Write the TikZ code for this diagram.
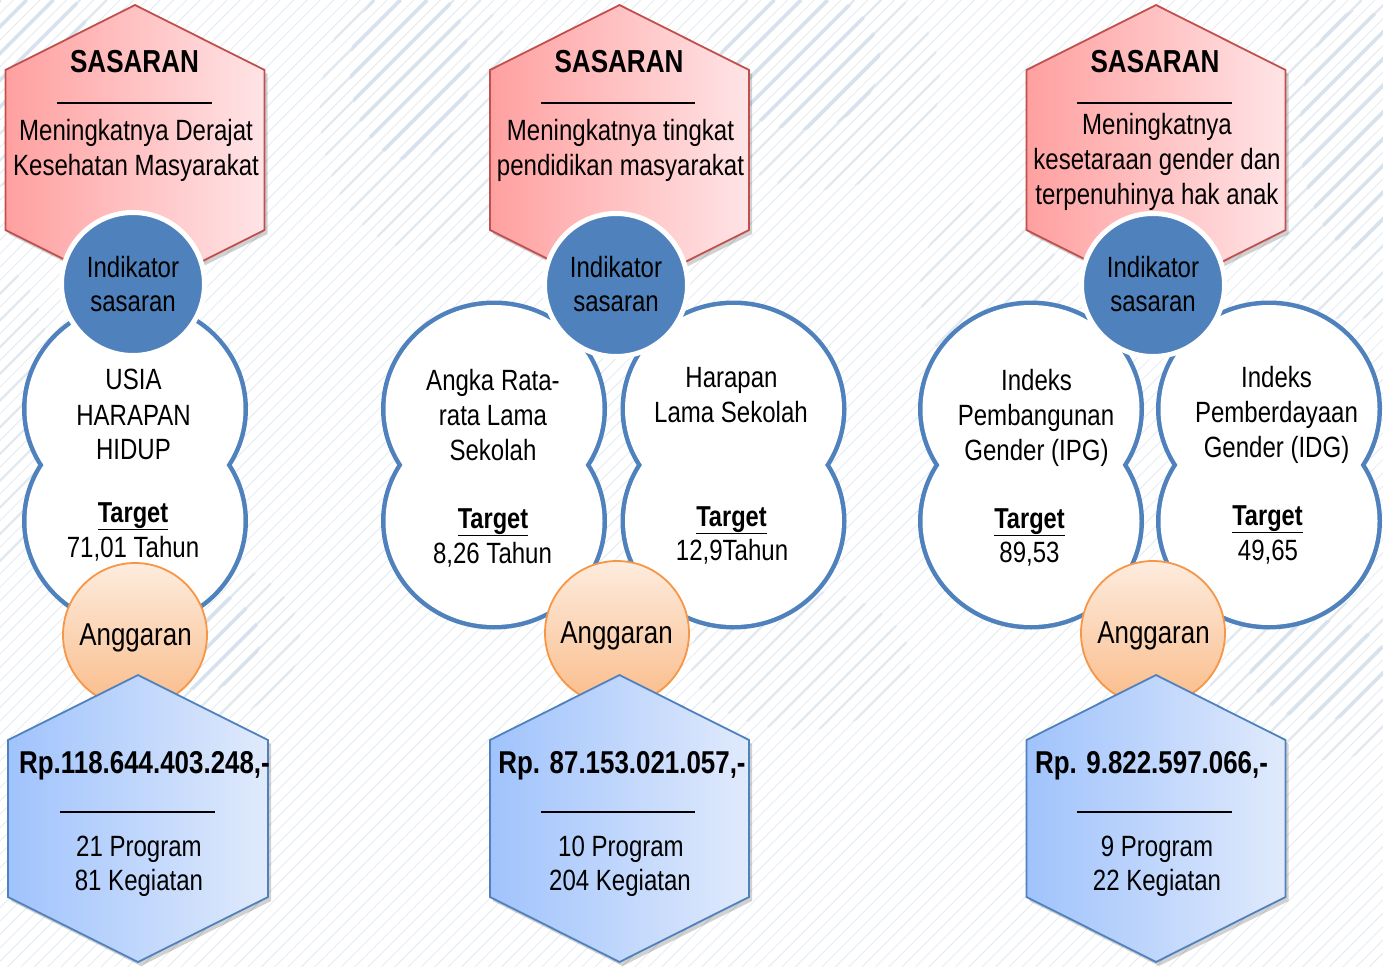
\documentclass[tikz,border=0pt]{standalone}
\usepackage{fontspec}
\setmainfont{Liberation Sans}[FakeStretch=0.82]
\definecolor{bgline}{RGB}{216,226,236}
\definecolor{bgmid}{RGB}{224,232,240}
\definecolor{bglight}{RGB}{227,234,241}
\definecolor{hexred}{RGB}{192,80,77}
\definecolor{redL}{RGB}{255,160,160}
\definecolor{redR}{RGB}{255,228,230}
\definecolor{bluebd}{RGB}{79,129,189}
\definecolor{blueL}{RGB}{160,195,252}
\definecolor{blueR}{RGB}{224,234,252}
\definecolor{orbd}{RGB}{247,150,70}
\definecolor{orTop}{RGB}{253,236,222}
\definecolor{orBot}{RGB}{250,188,138}
\newcommand\tophex[1]{%
  \fill[black,opacity=0.18] ({#1-129.5+3},74) -- ({#1+3},9) -- ({#1+129.5+3},74) -- ({#1+129.5+3},234) -- ({#1+3},299) -- ({#1-129.5+3},234) -- cycle;
  \shadedraw[left color=redL,right color=redR,draw=hexred,line width=1.8pt]
    ({#1-129.5},70) -- (#1,5) -- ({#1+129.5},70) -- ({#1+129.5},230) -- (#1,295) -- ({#1-129.5},230) -- cycle;}
\newcommand\bothex[2]{%
  \fill[black,opacity=0.18] ({#1-#2+3},744) -- ({#1+3},679) -- ({#1+#2+3},744) -- ({#1+#2+3},901) -- ({#1+3},966) -- ({#1-#2+3},901) -- cycle;
  \shadedraw[left color=blueL,right color=blueR,draw=bluebd,line width=1.8pt]
    ({#1-#2},740) -- (#1,675) -- ({#1+#2},740) -- ({#1+#2},897) -- (#1,962) -- ({#1-#2},897) -- cycle;}
\newcommand\blob[1]{%
  \draw[bluebd,line width=9pt] (#1,409) ellipse[x radius=108.5pt,y radius=104pt] (#1,521) ellipse[x radius=108.5pt,y radius=104pt];
  \fill[white] (#1,409) ellipse[x radius=108.5pt,y radius=104pt] (#1,521) ellipse[x radius=108.5pt,y radius=104pt];}
\newcommand\indic[2]{%
  \filldraw[fill=bluebd,draw=white,line width=5pt] (#1,#2) circle[radius=71.5pt];}
\newcommand\angg[2]{%
  \shadedraw[top color=orTop,bottom color=orBot,draw=orbd,line width=1.8pt] (#1,#2) circle[radius=72pt];}
\newcommand\tl[5]{\node[#1] (#2) at (#3,#4) {#5};}
\newcommand\stripes[4]{% spacing, width, colour, count
  \foreach \k in {0,...,#4}{
    \pgfmathsetmacro\s{\k*#1}
    \draw[#3,line width=#2] (\s,0) -- ({\s-1400},1400);
  }}
\newcommand\thickzones{%
  (30,70) ellipse[x radius=110pt,y radius=120pt]
  (420,110) ellipse[x radius=100pt,y radius=140pt]
  (820,80) ellipse[x radius=120pt,y radius=110pt]
  (1350,150) ellipse[x radius=100pt,y radius=170pt]
  (200,640) ellipse[x radius=100pt,y radius=80pt]
  (800,660) ellipse[x radius=110pt,y radius=70pt]
  (1320,680) ellipse[x radius=110pt,y radius=80pt]
  (5,420) ellipse[x radius=50pt,y radius=150pt]
  (990,290) ellipse[x radius=70pt,y radius=90pt]}
\newcommand\corezones{%
  (20,50) ellipse[x radius=70pt,y radius=80pt]
  (410,70) ellipse[x radius=60pt,y radius=90pt]
  (800,60) ellipse[x radius=80pt,y radius=70pt]
  (1360,130) ellipse[x radius=60pt,y radius=120pt]
  (200,640) ellipse[x radius=60pt,y radius=50pt]
  (1320,670) ellipse[x radius=70pt,y radius=50pt]}
\begin{document}
\begin{tikzpicture}[x=1pt,y=-1pt,
  txt/.style={anchor=base,inner sep=0pt,font=\fontsize{29.3}{34}\selectfont},
  ttl/.style={anchor=base,inner sep=0pt,font=\fontsize{31.8}{36}\selectfont\bfseries},
  rp/.style={anchor=base,inner sep=0pt,font=\fontsize{31.6}{36}\selectfont\bfseries},
  ang/.style={anchor=base,inner sep=0pt,font=\fontsize{31.6}{36}\selectfont},
  tgt/.style={anchor=base,inner sep=0pt,font=\fontsize{28.8}{34}\selectfont\bfseries},
  sepline/.style={black,line width=1.4pt}]
\useasboundingbox (0,0) rectangle (1383,966);
\fill[white] (0,0) rectangle (1383,966);
% background stripes
\begin{scope}
  \clip (0,0) rectangle (1383,966);
  \stripes{13.35}{0.8pt}{bglight}{180}
\end{scope}
\begin{scope}
  \clip \thickzones;
  \stripes{26.7}{2.2pt}{bgmid}{90}
\end{scope}
\begin{scope}
  \clip \corezones;
  \stripes{26.7}{3.6pt}{bgline}{90}
\end{scope}
% top hexagons
\tophex{135}
\tophex{619.5}
\tophex{1156}
% blobs
\blob{135}
\blob{494}
\blob{733.5}
\blob{1031}
\blob{1269}
% indicator circles
\indic{133}{284}
\indic{616}{285}
\indic{1153}{285}
% anggaran circles
\angg{135}{635}
\angg{617}{633}
\angg{1153}{633}
% bottom hexagons
\bothex{138}{130}
\bothex{619.5}{129.5}
\bothex{1156}{129.5}
% ---- column 1 texts
\tl{ttl}{sas1}{134.5}{73}{SASARAN}
\coordinate (l1a) at (57,103); \coordinate (l1b) at (212,103);
\draw[sepline] (l1a) -- (l1b);
\tl{txt}{s1a}{136}{140}{Meningkatnya Derajat}
\tl{txt}{s1b}{136}{175}{Kesehatan Masyarakat}
\tl{txt}{i1a}{133}{277}{Indikator}
\tl{txt}{i1b}{133}{311}{sasaran}
\tl{txt}{u1a}{133.5}{389}{USIA}
\tl{txt}{u1b}{133.5}{425}{HARAPAN}
\tl{txt}{u1c}{133.5}{459}{HIDUP}
\tl{tgt}{t1}{133}{522}{\underline{Target}}
\tl{txt}{v1}{133}{557}{71,01 Tahun}
\tl{ang}{a1}{135.5}{645}{Anggaran}
\tl{rp}{r1}{144.5}{773}{Rp.118.644.403.248,-}
\coordinate (m1a) at (60,812); \coordinate (m1b) at (215,812);
\draw[sepline] (m1a) -- (m1b);
\tl{txt}{p1}{139}{856}{21 Program}
\tl{txt}{k1}{139}{890}{81 Kegiatan}
% ---- column 2 texts
\tl{ttl}{sas2}{619}{73}{SASARAN}
\coordinate (l2a) at (541,103); \coordinate (l2b) at (695,103);
\draw[sepline] (l2a) -- (l2b);
\tl{txt}{s2a}{620.5}{140}{Meningkatnya tingkat}
\tl{txt}{s2b}{620.5}{175}{pendidikan masyarakat}
\tl{txt}{i2a}{616}{277}{Indikator}
\tl{txt}{i2b}{616}{311}{sasaran}
\tl{txt}{u2a}{493}{390}{Angka Rata-}
\tl{txt}{u2b}{493}{425}{rata Lama}
\tl{txt}{u2c}{493}{460}{Sekolah}
\tl{tgt}{t2}{493}{528}{\underline{Target}}
\tl{txt}{v2}{492.5}{563}{8,26 Tahun}
\tl{txt}{w2a}{731.5}{387}{Harapan}
\tl{txt}{w2b}{731}{422}{Lama Sekolah}
\tl{tgt}{t2b}{731.5}{526}{\underline{Target}}
\tl{txt}{v2b}{732}{560}{12,9Tahun}
\tl{ang}{a2}{616.5}{643}{Anggaran}
\tl{rp}{r2}{622}{773}{Rp. 87.153.021.057,-}
\coordinate (m2a) at (541,812); \coordinate (m2b) at (695,812);
\draw[sepline] (m2a) -- (m2b);
\tl{txt}{p2}{621}{856}{10 Program}
\tl{txt}{k2}{620}{890}{204 Kegiatan}
% ---- column 3 texts
\tl{ttl}{sas3}{1155}{73}{SASARAN}
\coordinate (l3a) at (1077,103); \coordinate (l3b) at (1232,103);
\draw[sepline] (l3a) -- (l3b);
\tl{txt}{s3a}{1157}{134}{Meningkatnya}
\tl{txt}{s3b}{1157}{169}{kesetaraan gender dan}
\tl{txt}{s3c}{1157}{204}{terpenuhinya hak anak}
\tl{txt}{i3a}{1153}{277}{Indikator}
\tl{txt}{i3b}{1153}{311}{sasaran}
\tl{txt}{u3a}{1036.5}{390}{Indeks}
\tl{txt}{u3b}{1036}{425}{Pembangunan}
\tl{txt}{u3c}{1036.5}{460}{Gender (IPG)}
\tl{tgt}{t3}{1029.5}{528}{\underline{Target}}
\tl{txt}{v3}{1029.5}{562}{89,53}
\tl{txt}{w3a}{1276.5}{387}{Indeks}
\tl{txt}{w3b}{1276.5}{422}{Pemberdayaan}
\tl{txt}{w3c}{1276.5}{457}{Gender (IDG)}
\tl{tgt}{t3b}{1267.5}{525}{\underline{Target}}
\tl{txt}{v3b}{1268}{560}{49,65}
\tl{ang}{a3}{1153.5}{643}{Anggaran}
\tl{rp}{r3}{1151.5}{773}{Rp. 9.822.597.066,-}
\coordinate (m3a) at (1077,812); \coordinate (m3b) at (1232,812);
\draw[sepline] (m3a) -- (m3b);
\tl{txt}{p3}{1157}{856}{9 Program}
\tl{txt}{k3}{1157}{890}{22 Kegiatan}
\end{tikzpicture}
\end{document}
